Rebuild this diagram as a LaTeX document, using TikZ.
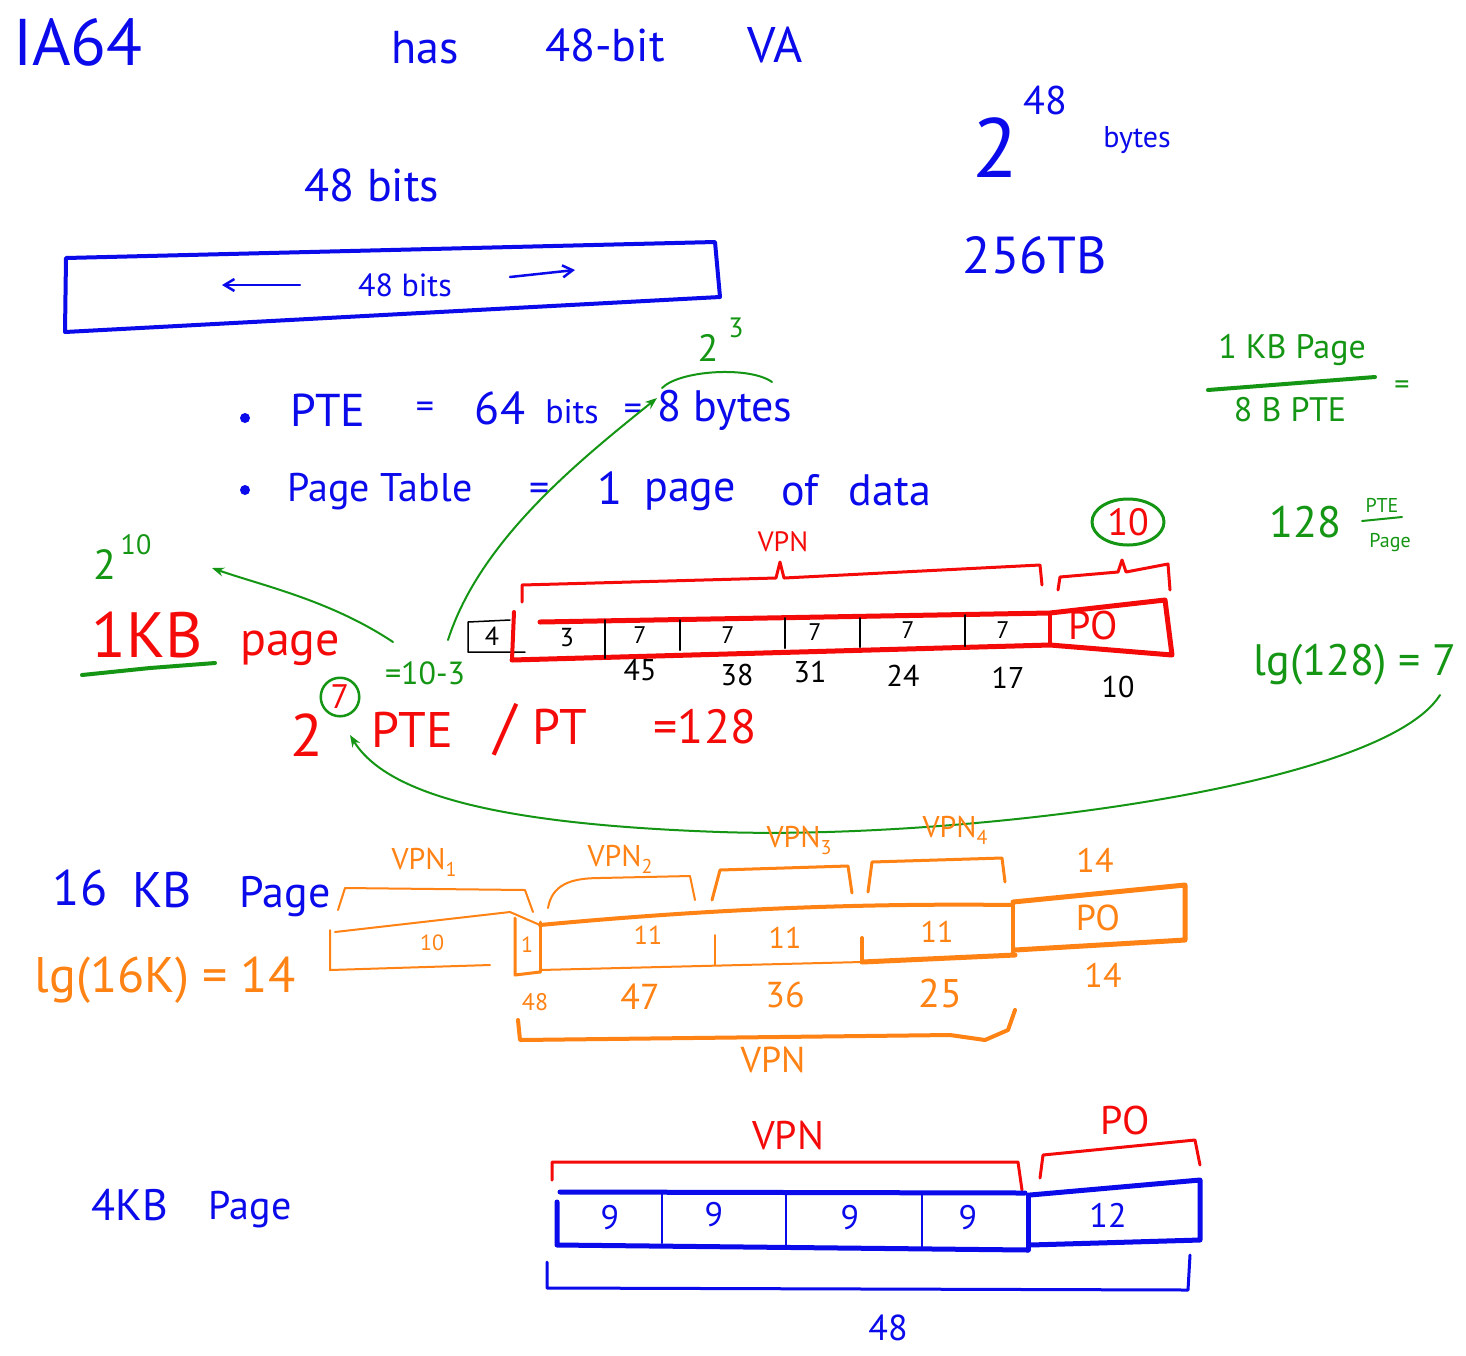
\documentclass[tikz,border=0pt]{standalone}
\usepackage{fontspec}
\setmainfont{PT Sans}
\usetikzlibrary{arrows.meta,shapes.geometric}
\definecolor{hblue}{RGB}{10,10,235}
\definecolor{hred}{RGB}{245,10,10}
\definecolor{hgreen}{RGB}{20,150,20}
\definecolor{horange}{RGB}{255,130,20}
\newcommand{\fsz}[1]{\fontsize{#1}{#1}\selectfont}
\newcommand{\vsub}[1]{VPN\raisebox{-7pt}{\fsz{20}#1}}
\begin{document}
\begin{tikzpicture}[x=1pt,y=-1pt,line join=round,line cap=round,
  txt/.style={inner sep=0pt,anchor=center},
  bl/.style={txt,text=hblue},
  rd/.style={txt,text=hred},
  gr/.style={txt,text=hgreen},
  og/.style={txt,text=horange},
  bk/.style={txt,text=black},
  conn/.style={hgreen,line width=2,-{Stealth[length=12pt,width=9pt]}}]
\useasboundingbox (0,0) rectangle (1466,1355);
\fill[white] (0,0) rectangle (1466,1355);

% ---------- top ----------
\node[bl,font=\fsz{66}] (ia) at (78,42) {IA64};
\node[bl,font=\fsz{46}] (has) at (425,48) {has};
\node[bl,font=\fsz{46}] (bit) at (605,45) {48-bit};
\node[bl,font=\fsz{50}] (va) at (775,45) {VA};
\node[bl,font=\fsz{84}] (two) at (995,148) {2};
\node[bl,font=\fsz{40}] (fe) at (1045,100) {48};
\node[bl,font=\fsz{30}] (bytes) at (1137,140) {bytes};
\node[bl,font=\fsz{46}] (fbits) at (372,185) {48 bits};
\node[bl,font=\fsz{52}] (tb) at (1035,255) {256TB};

\draw[hblue,line width=4] (66,258) -- (715,242) -- (720,297) -- (65,332) -- cycle;
\node[bl,font=\fsz{32}] (inbits) at (405,285) {48 bits};
\coordinate (al1) at (300,285); \coordinate (al2) at (222,285);
\coordinate (ar1) at (510,277); \coordinate (ar2) at (575,270);
\draw[hblue,line width=2.5,-{Straight Barb[length=10pt,width=12pt]}] (al1) -- (al2);
\draw[hblue,line width=2.5,-{Straight Barb[length=10pt,width=12pt]}] (ar1) -- (ar2);

% ---------- bullets ----------
\node[gr,font=\fsz{38}] (tw3) at (708,348) {2};
\node[gr,font=\fsz{28}] (ex3) at (736,328) {3};
\draw[hgreen,line width=2] (662,388) .. controls (680,370) and (750,366) .. (772,382);

\node[circle,fill=hblue,minimum size=10pt,inner sep=0pt] (b1) at (245,418) {};
\node[bl,font=\fsz{46}] (pte) at (328,410) {PTE};
\node[bl,font=\fsz{36}] (eq1) at (425,410) {=};
\node[bl,font=\fsz{46}] (sf) at (500,408) {64};
\node[bl,font=\fsz{34}] (bits2) at (572,412) {bits};
\node[bl,font=\fsz{36}] (eq2) at (633,412) {=};
\node[bl,font=\fsz{44}] (eight) at (725,410) {8 bytes};

\node[circle,fill=hblue,minimum size=10pt,inner sep=0pt] (b2) at (245,490) {};
\node[bl,font=\fsz{40}] (ptab) at (380,492) {Page Table};
\node[bl,font=\fsz{40}] (eq3) at (540,492) {=};
\node[bl,font=\fsz{46}] (one) at (610,488) {1};
\node[bl,font=\fsz{44}] (pg) at (690,495) {page};
\node[bl,font=\fsz{44}] (of) at (800,490) {of};
\node[bl,font=\fsz{44}] (data) at (890,490) {data};

% ---------- right green notes ----------
\node[gr,font=\fsz{34}] (kbp) at (1292,350) {1 KB Page};
\draw[hgreen,line width=4] (1208,390) -- (1375,377);
\node[gr,font=\fsz{34}] (bpte) at (1290,410) {8 B PTE};
\node[gr,font=\fsz{30}] (eq4) at (1402,388) {=};
\node[gr,font=\fsz{44}] (ote) at (1305,522) {128};
\node[gr,font=\fsz{20}] (fpte) at (1382,505) {PTE};
\draw[hgreen,line width=2] (1362,521) -- (1402,517);
\node[gr,font=\fsz{20}] (fpage) at (1390,543) {Page};
\node[gr,font=\fsz{44}] (lg) at (1355,665) {lg(128) = 7};

% ---------- 1KB page layout ----------
\node[ellipse,draw=hgreen,line width=3,text=hred,font=\fsz{38},minimum width=72pt,minimum height=46pt,inner sep=0pt] (ten) at (1128,522) {10};
\node[rd,font=\fsz{28}] (vpnA) at (783,542) {VPN};
\draw[hred,line width=3] (522,602) -- (522,585) -- (776,578) -- (780,562) -- (784,578) -- (1040,565) -- (1042,585);
\draw[hred,line width=3] (1058,590) -- (1060,577) -- (1118,572) -- (1122,560) -- (1126,572) -- (1168,564) -- (1170,590);

\draw[black,line width=1.5] (525,652) -- (468,652) -- (468,622) -- (510,620);
\node[bk,font=\fsz{26}] (c4) at (492,636) {4};
\draw[hred,line width=5] (540,622) -- (1050,613) -- (1165,600) -- (1172,655) -- (1050,645) -- (512,660);
\draw[hred,line width=4] (514,612) -- (512,660);
\draw[hred,line width=4] (1050,613) -- (1050,645);
\foreach \x/\a/\b in {605/620/658,680/620/650,785/618/648,860/618/647,965/615/646}
  \draw[black,line width=2] (\x,\a) -- (\x,\b);
\node[bk,font=\fsz{26}] (c3) at (567,638) {3};
\node[bk,font=\fsz{24}] (c7a) at (640,635) {7};
\node[bk,font=\fsz{24}] (c7b) at (728,635) {7};
\node[bk,font=\fsz{24}] (c7c) at (815,632) {7};
\node[bk,font=\fsz{24}] (c7d) at (908,630) {7};
\node[bk,font=\fsz{24}] (c7e) at (1003,630) {7};
\node[rd,font=\fsz{40}] (poA) at (1093,625) {PO};
\node[bk,font=\fsz{30}] (n45) at (640,670) {45};
\node[bk,font=\fsz{30}] (n38) at (737,675) {38};
\node[bk,font=\fsz{30}] (n31) at (810,672) {31};
\node[bk,font=\fsz{30}] (n24) at (903,676) {24};
\node[bk,font=\fsz{30}] (n17) at (1008,678) {17};
\node[bk,font=\fsz{30}] (n10) at (1118,687) {10};

\node[gr,font=\fsz{42}] (tw10) at (105,565) {2};
\node[gr,font=\fsz{28}] (ex10) at (136,545) {10};
\node[rd,font=\fsz{64}] (kb) at (147,635) {1KB};
\draw[hgreen,line width=4] (82,675) -- (150,668) -- (215,663);
\node[rd,font=\fsz{48}] (kpage) at (290,648) {page};
\node[gr,font=\fsz{32}] (tmt) at (425,673) {=10-3};
\node[rd,font=\fsz{60}] (two7) at (307,735) {2};
\node[circle,draw=hgreen,line width=2.5,text=hred,font=\fsz{34},inner sep=3pt] (seven) at (340,697) {7};
\node[rd,font=\fsz{50}] (pteB) at (412,730) {PTE};
\node[rd,font=\fsz{62}] (slash) at (505,730) {/};
\node[rd,font=\fsz{50}] (pt) at (560,727) {PT};
\node[rd,font=\fsz{48}] (ote2) at (705,727) {=128};

\coordinate (g1s) at (448,640); \coordinate (g1e) at (657,398);
\draw[conn] (g1s) .. controls (480,540) and (580,460) .. (g1e);
\coordinate (g2s) at (393,642); \coordinate (g2e) at (212,568);
\draw[conn] (g2s) .. controls (330,600) and (260,585) .. (g2e);
\coordinate (g3s) at (1440,695); \coordinate (g3m) at (720,832); \coordinate (g3e) at (350,735);
\draw[conn] (g3s) .. controls (1380,790) and (950,840) .. (g3m) .. controls (520,825) and (390,800) .. (g3e);

% ---------- 16KB page ----------
\node[bl,font=\fsz{50}] (s16) at (80,888) {16};
\node[bl,font=\fsz{50}] (skb) at (162,890) {KB};
\node[bl,font=\fsz{44}] (spage) at (285,897) {Page};
\node[og,font=\fsz{50}] (lg16) at (165,980) {lg(16K) = 14};

\draw[horange,line width=2] (335,932) -- (510,912) -- (540,925);
\draw[horange,line width=2] (330,930) -- (330,970) -- (490,965);
\node[og,font=\fsz{22}] (o10) at (432,943) {10};
\draw[horange,line width=3] (515,918) -- (515,975) -- (540,972);
\draw[horange,line width=3] (540,922) -- (540,972);
\node[og,font=\fsz{22}] (o1) at (527,945) {1};
\draw[horange,line width=4] (540,925) .. controls (700,910) and (850,903) .. (1013,905);
\draw[horange,line width=5] (1013,902) -- (1185,885) -- (1185,940) -- (1015,950);
\draw[horange,line width=2] (540,970) -- (862,962);
\draw[horange,line width=5] (862,962) -- (1015,955);
\draw[horange,line width=2] (715,935) -- (715,965);
\draw[horange,line width=4] (862,938) -- (862,962);
\draw[horange,line width=4] (1013,905) -- (1013,955);
\node[og,font=\fsz{26}] (o11a) at (648,935) {11};
\node[og,font=\fsz{30}] (o11b) at (785,938) {11};
\node[og,font=\fsz{30}] (o11c) at (937,932) {11};
\node[og,font=\fsz{36}] (opo) at (1098,918) {PO};

\draw[horange,line width=2] (338,910) -- (345,888) -- (525,890) -- (533,912);
\draw[horange,line width=2] (548,908) .. controls (552,885) and (570,878) .. (600,878) -- (690,876) -- (695,900);
\draw[horange,line width=3] (712,900) -- (720,870) -- (848,866) -- (852,893);
\draw[horange,line width=3] (868,892) -- (872,862) -- (1002,858) -- (1005,882);
\node[og,font=\fsz{30}] (v1) at (424,862) {\vsub{1}};
\node[og,font=\fsz{30}] (v2) at (620,859) {\vsub{2}};
\node[og,font=\fsz{30}] (v3) at (799,840) {\vsub{3}};
\node[og,font=\fsz{30}] (v4) at (955,830) {\vsub{4}};
\node[og,font=\fsz{34}] (o14a) at (1095,860) {14};
\node[og,font=\fsz{24}] (o48) at (535,1002) {48};
\node[og,font=\fsz{36}] (o47) at (640,997) {47};
\node[og,font=\fsz{36}] (o36) at (785,995) {36};
\node[og,font=\fsz{40}] (o25) at (940,993) {25};
\node[og,font=\fsz{34}] (o14b) at (1103,975) {14};
\draw[horange,line width=4] (518,1020) -- (520,1040) -- (950,1035) -- (985,1040) -- (1008,1030) -- (1015,1010);
\node[og,font=\fsz{36}] (ovpn) at (773,1060) {VPN};

% ---------- 4KB page ----------
\node[bl,font=\fsz{44}] (f4kb) at (130,1205) {4KB};
\node[bl,font=\fsz{40}] (fpg) at (250,1210) {Page};
\draw[hred,line width=3] (552,1180) -- (552,1162) -- (1018,1162) -- (1022,1190);
\node[rd,font=\fsz{40}] (rvpn) at (788,1135) {VPN};
\draw[hred,line width=3] (1040,1178) -- (1043,1155) -- (1195,1140) -- (1200,1165);
\node[rd,font=\fsz{40}] (rpo) at (1125,1120) {PO};

\draw[hblue,line width=5] (560,1192) -- (1025,1193);
\draw[hblue,line width=5] (1030,1195) -- (1200,1180) -- (1200,1240) -- (1030,1245);
\draw[hblue,line width=5] (557,1202) -- (557,1245) -- (1028,1250);
\draw[hblue,line width=2] (662,1192) -- (662,1243);
\draw[hblue,line width=2] (786,1193) -- (786,1248);
\draw[hblue,line width=2] (922,1193) -- (922,1248);
\draw[hblue,line width=5] (1028,1195) -- (1028,1250);
\node[bl,font=\fsz{34}] (n9a) at (610,1218) {9};
\node[bl,font=\fsz{34}] (n9b) at (714,1215) {9};
\node[bl,font=\fsz{34}] (n9c) at (850,1218) {9};
\node[bl,font=\fsz{34}] (n9d) at (968,1218) {9};
\node[bl,font=\fsz{34}] (n12) at (1108,1215) {12};
\draw[hblue,line width=3] (547,1262) -- (547,1288) -- (1188,1290) -- (1190,1255);
\node[bl,font=\fsz{36}] (n48) at (888,1328) {48};
\end{tikzpicture}
\end{document}
